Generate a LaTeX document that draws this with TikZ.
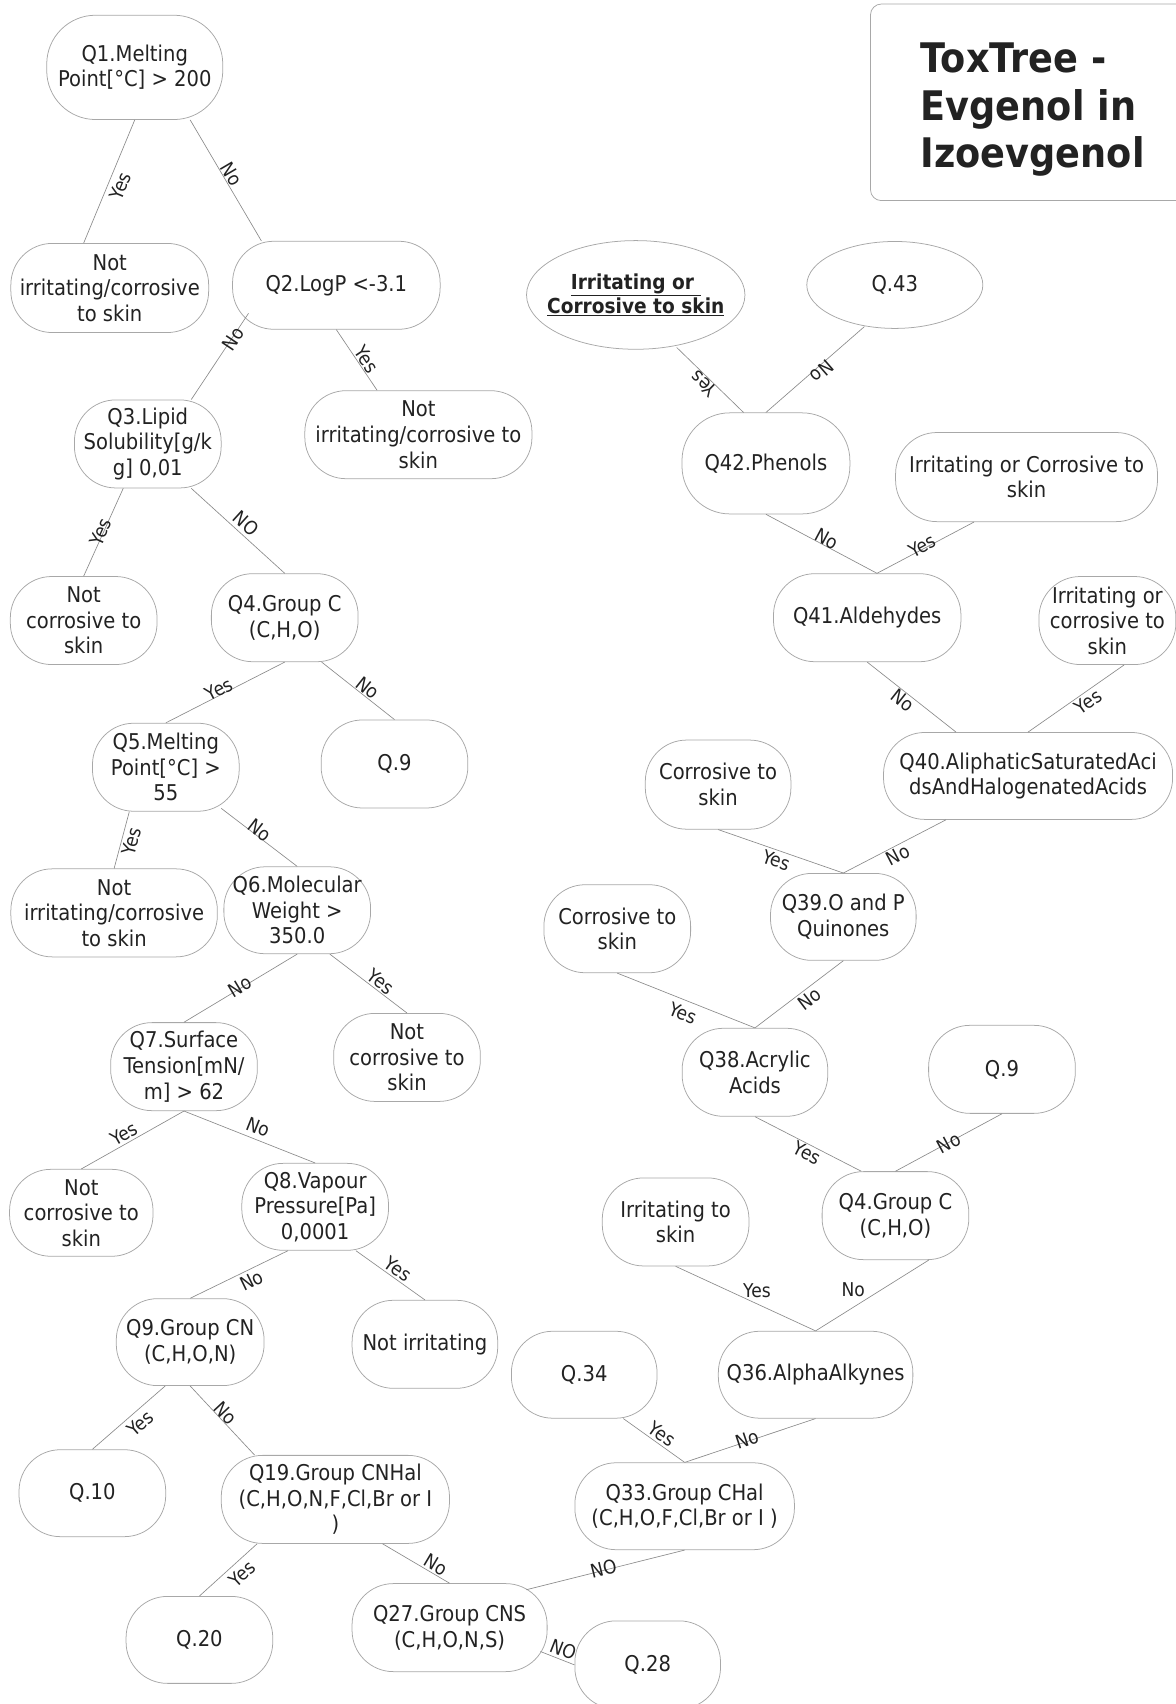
\documentclass[tikz,border=0pt]{standalone}
\usepackage{fontspec}
\setmainfont{DejaVu Sans}[FakeStretch=0.9]
\usetikzlibrary{shapes.geometric}
\definecolor{txt}{HTML}{222222}
\definecolor{bord}{HTML}{A8A8A8}
\definecolor{lnk}{HTML}{8A8A8A}
\newcommand\nodefont{\fontsize{20}{23.5}\selectfont}
\newcommand\lblfont{\fontsize{17.5}{20}\selectfont}
\newcommand\ovalfont{\bfseries\fontsize{19}{22}\selectfont}
\newcommand\titlefont{\bfseries\fontsize{37.5}{44}\selectfont}
\begin{document}
\begin{tikzpicture}[x=1pt,y=-1pt,%
    every node/.style={font=\nodefont,text=txt},%
    qbox/.style={draw=bord,line width=0.7pt,rounded corners=38pt,minimum
      width=135pt,minimum height=81pt,align=center,inner sep=2pt},%
    oval/.style={draw=bord,line width=0.7pt,ellipse,inner sep=0pt,align=center},%
    edge/.style={draw=lnk,line width=0.6pt},%
    lbl/.style={font=\lblfont,sloped,inner sep=1pt},%
    hlbl/.style={font=\lblfont,inner sep=1pt}]
  \clip (0,0) rectangle (1082,1568);
  % title
  \draw[bord,line width=0.7pt,rounded corners=10pt] (801,3.7) rectangle (1110,184.6);
  \node[font=\titlefont,align=left,anchor=north west,inner sep=0pt] (title) at (847,39)
  {ToxTree -\\Evgenol in\\Izoevgenol};
  % left branch
  \node[qbox,minimum width=162pt,minimum height=96pt,rounded corners=45pt] (q1) at (124,62)
  {Q1.Melting\\Point[°C] > 200};
  \node[qbox,minimum width=182pt,minimum height=82pt] (ni1) at (101,265)
  {Not\\irritating/corrosive\\to skin};
  \node[qbox,minimum width=191pt] (q2) at (309.5,262.5) {Q2.LogP <-3.1};
  \node[qbox] (q3) at (136,408.5) {Q3.Lipid\\Solubility[g/k\\g] 0,01};
  \node[qbox,minimum width=209pt] (ni2) at (385,400)
  {Not\\irritating/corrosive to\\skin};
  \node[qbox] (nc1) at (77,571) {Not\\corrosive to\\skin};
  \node[qbox] (q4) at (262,568.4) {Q4.Group C\\(C,H,O)};
  \node[qbox] (q5) at (152.6,706) {Q5.Melting\\Point[°C] >\\55};
  \node[qbox] (q9a) at (363,703) {Q.9};
  \node[qbox,minimum width=190pt] (ni3) at (105,840)
  {Not\\irritating/corrosive\\to skin};
  \node[qbox,minimum height=80pt] (q6) at (273.5,837.6) {Q6.Molecular\\Weight >\\350.0};
  \node[qbox] (q7) at (169.3,981.5) {Q7.Surface\\Tension[mN/\\m] > 62};
  \node[qbox] (nc2) at (374.5,973) {Not\\corrosive to\\skin};
  \node[qbox,minimum width=132pt,minimum height=80pt] (nc3) at (74.8,1116)
  {Not\\corrosive to\\skin};
  \node[qbox,minimum height=80pt] (q8) at (290,1110.5) {Q8.Vapour\\Pressure[Pa]\\0,0001};
  \node[qbox,minimum width=136pt,minimum height=80pt] (q9) at (175,1235)
  {Q9.Group CN\\(C,H,O,N)};
  \node[qbox,minimum width=134pt] (nirr) at (391,1237) {Not irritating};
  \node[qbox,minimum height=80pt] (q10) at (85,1374) {Q.10};
  \node[qbox,minimum width=210pt] (q19) at (308.6,1379.7)
  {Q19.Group CNHal\\(C,H,O,N,F,Cl,Br or I\\)};
  \node[qbox,minimum height=80pt] (q20) at (183.5,1509) {Q.20};
  \node[qbox,minimum width=179.5pt] (q27) at (413.7,1497.7) {Q27.Group CNS\\(C,H,O,N,S)};
  \node[qbox,minimum width=134pt] (q28) at (596,1532) {Q.28};
  % right branch
  \node[qbox,minimum width=202pt,minimum height=80pt] (q33) at (630,1386)
  {Q33.Group CHal\\(C,H,O,F,Cl,Br or I )};
  \node[qbox,minimum width=134pt,minimum height=80pt] (q34) at (537.6,1265) {Q.34};
  \node[qbox,minimum width=179pt,minimum height=80pt] (q36) at (750.5,1265)
  {Q36.AlphaAlkynes};
  \node[qbox] (irs) at (621.7,1124.4) {Irritating to\\skin};
  \node[qbox] (q4b) at (824,1118.6) {Q4.Group C\\(C,H,O)};
  \node[qbox,minimum width=134pt] (q38) at (694.7,986.7) {Q38.Acrylic\\Acids};
  \node[qbox] (q9b) at (922,984) {Q.9};
  \node[qbox] (cs2) at (568,854.6) {Corrosive to\\skin};
  \node[qbox,minimum width=134pt,minimum height=80pt] (q39) at (776,843.7)
  {Q39.O and P\\Quinones};
  \node[qbox,minimum width=134pt,minimum height=82pt] (cs1) at (660.8,722)
  {Corrosive to\\skin};
  \node[qbox,minimum width=266pt,minimum height=80pt] (q40) at (946,714)
  {Q40.AliphaticSaturatedAci\\dsAndHalogenatedAcids};
  \node[qbox,minimum width=172.5pt] (q41) at (798,568.4) {Q41.Aldehydes};
  \node[qbox,minimum width=126pt] (ic2) at (1019,571) {Irritating or\\corrosive to\\skin};
  \node[qbox,minimum width=154.5pt,minimum height=93pt,rounded corners=44pt] (q42)
  at (704.8,426.4) {Q42.Phenols};
  \node[qbox,minimum width=241pt,minimum height=82pt] (ic1) at (944.6,439)
  {Irritating or Corrosive to\\skin};
  \node[oval,minimum width=201pt,minimum height=100pt,inner xsep=-15pt,font=\ovalfont]
  (ics) at (585,271.4) {\underline{Irritating or\ }\\\underline{Corrosive to skin}};
  \node[oval,minimum width=162pt,minimum height=80pt] (q43) at (823.4,262.2) {Q.43};
  % connectors, left branch
  \draw[edge] (q1.south) -- node[lbl,pos=.5,above=-19pt]{Yes} ([xshift=-24pt]ni1.north);
  \draw[edge] ([xshift=51pt]q1.south) -- node[lbl,pos=.48,above=0pt]{No}
  ([xshift=-69pt]q2.north);
  \draw[edge] ([xshift=15pt,yshift=15pt]q2.south west) -- node[lbl,pos=.29,above=-9pt]{No}
  ([xshift=40pt]q3.north);
  \draw[edge] (q2.south) -- node[lbl,pos=.57,above=0pt]{Yes} ([xshift=-38pt]ni2.north);
  \draw[edge] ([xshift=-22.6pt]q3.south) -- node[lbl,pos=.51,above=-5.5pt]{Yes} (nc1.north);
  \draw[edge] ([xshift=40pt]q3.south) -- node[lbl,pos=.51,above=2pt]{NO} (q4.north);
  \draw[edge] (q4.south) -- node[lbl,pos=.53,above=-2.6pt]{Yes} (q5.north);
  \draw[edge] ([xshift=34pt]q4.south) -- node[lbl,pos=.565,above=0pt]{No} (q9a.north);
  \draw[edge] ([xshift=-33.6pt]q5.south) -- node[lbl,pos=.48,above=-17pt]{Yes} (ni3.north);
  \draw[edge] ([xshift=51pt,yshift=3pt]q5.south) -- node[lbl,pos=.46,above=-2pt]{No}
  (q6.north);
  \draw[edge] (q6.south) -- node[lbl,pos=.5,above=-6pt]{No} (q7.north);
  \draw[edge] ([xshift=30pt]q6.south) -- node[lbl,pos=.59,above=0.5pt]{Yes} (nc2.north);
  \draw[edge] (q7.south) -- node[lbl,pos=.54,above=0.7pt]{Yes} (nc3.north);
  \draw[edge] (q7.south) -- node[lbl,pos=.53,above=3.4pt]{No} (q8.north);
  \draw[edge] ([xshift=-25pt]q8.south) -- node[lbl,pos=.42,above=-18pt]{No} (q9.north);
  \draw[edge] ([xshift=37.5pt]q8.south) -- node[lbl,pos=.53,above=1pt]{Yes} (nirr.north);
  \draw[edge] ([xshift=-23pt]q9.south) -- node[lbl,pos=.45,above=-19pt]{Yes} (q10.north);
  \draw[edge] (q9.south) -- node[lbl,pos=.47,above=-1pt]{No} ([xshift=-74.4pt]q19.north);
  \draw[edge] ([xshift=-72pt]q19.south) -- node[lbl,pos=.40,above=-19pt]{Yes} (q20.north);
  \draw[edge] ([xshift=43.4pt]q19.south) -- node[lbl,pos=.73,above=0.7pt]{No} (q27.north);
  \draw[edge] (q33.south) -- node[lbl,pos=.51,above=-6pt]{NO}
  ([xshift=70.6pt,yshift=-6pt]q27.north);
  \draw[edge] ([xshift=-6.5pt,yshift=-22pt]q27.east) -- node[lbl,pos=.56,above=1.4pt]{NO}
  (q28.west);
  % connectors, right branch
  \draw[edge] ([xshift=36pt]q34.south) -- node[lbl,pos=.54,above=1pt]{Yes} (q33.north);
  \draw[edge] (q36.south) -- node[lbl,pos=.52,above=-6pt]{No} (q33.north);
  \draw[edge] (irs.south) -- node[hlbl,pos=.55,above=2pt,xshift=4pt]{Yes} (q36.north);
  \draw[edge] ([xshift=30.7pt]q4b.south) -- node[hlbl,pos=.6,above=4pt,xshift=-7pt]{No}
  (q36.north);
  \draw[edge] (cs2.south) -- node[lbl,pos=.51,above=-19.7pt]{Yes} (q38.north);
  \draw[edge] (q39.south) -- node[lbl,pos=.45,above=-17pt]{No} (q38.north);
  \draw[edge] (q38.south) -- node[lbl,pos=.53,above=-15.7pt]{Yes} ([xshift=-31.5pt]q4b.north);
  \draw[edge] (q9b.south) -- node[lbl,pos=.5,above=-8pt]{No} (q4b.north);
  \draw[edge] (cs1.south) -- node[lbl,pos=.49,above=-17pt]{Yes} (q39.north);
  \draw[edge] ([xshift=-75.5pt]q40.south) -- node[lbl,pos=.51,above=-16.6pt]{No} (q39.north);
  \draw[edge] (q41.south) -- node[lbl,pos=.46,above=-15pt]{No} ([xshift=-66.3pt]q40.north);
  \draw[edge] ([xshift=15.4pt]ic2.south) -- node[lbl,pos=.43,above=-16.7pt]{Yes} (q40.north);
  \draw[edge] (q42.south) -- node[lbl,pos=.52,above=-2pt]{No} ([xshift=9pt]q41.north);
  \draw[edge] ([xshift=-48.3pt]ic1.south) -- node[lbl,pos=.52,above=-5pt]{Yes}
  ([xshift=9pt]q41.north);
  \draw[edge] ([xshift=-20.6pt]q42.north) -- node[lbl,allow upside down,pos=.52,above=-1pt]{Yes}
  ([xshift=37.7pt,yshift=2pt]ics.south);
  \draw[edge] ([xshift=-28pt,yshift=2pt]q43.south) -- node[lbl,allow upside down,pos=.47,
  above=-2pt]{No} (q42.north);
\end{tikzpicture}
\end{document}
